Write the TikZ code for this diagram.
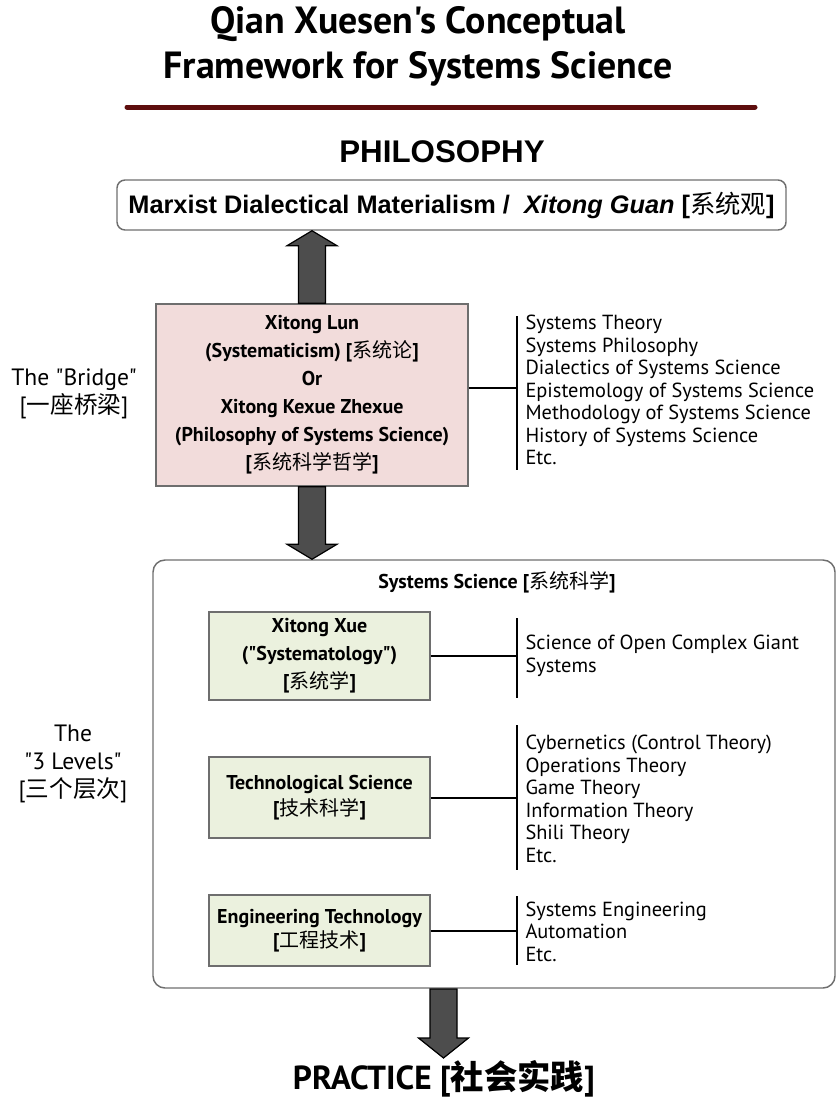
\documentclass[tikz,border=0pt]{standalone}
\usepackage{fontspec}
\setmainfont{PT Sans}[Ligatures=TeXOff]
\newfontfamily\arialfont{Liberation Sans}
\newfontfamily\cjk{Noto Sans CJK SC}
\newcommand{\zhtext}[1]{{\cjk\mdseries #1}}
\usetikzlibrary{calc}

\definecolor{titlered}{RGB}{94,14,14}
\definecolor{bridgepink}{RGB}{242,220,219}
\definecolor{levelgreen}{RGB}{235,241,222}
\definecolor{arrowgray}{RGB}{77,77,77}
\definecolor{bordergray}{RGB}{110,110,110}

\tikzset{every picture/.style={line width=0.75pt}}
\tikzset{
	titletext/.style={font=\bfseries\fontsize{28.4}{33.75}\selectfont, align=center},
	headtext/.style={font=\arialfont\bfseries\fontsize{23.5}{27}\selectfont},
	topbox/.style={draw=bordergray, rounded corners=6pt, line width=1.1pt, minimum width=501.75pt, minimum height=37.5pt, font=\arialfont\bfseries\fontsize{19}{22}\selectfont},
	bridgebox/.style={draw=bordergray, fill=bridgepink, line width=1.1pt, minimum width=234pt, minimum height=136.5pt, align=center, font=\bfseries\fontsize{15}{21}\selectfont},
	levelbox/.style={draw=bordergray, fill=levelgreen, line width=1.1pt, minimum width=165.75pt, align=center, font=\bfseries\fontsize{15}{21}\selectfont},
	outerbox/.style={draw=bordergray, rounded corners=9pt, line width=1.1pt, minimum width=511.5pt, minimum height=321pt},
	sidelabel/.style={align=center, font=\fontsize{17.7}{21}\selectfont},
	listtext/.style={anchor=west, align=left, inner sep=0pt, font=\fontsize{15.3}{16.9}\selectfont},
	joinline/.style={line width=1.5pt},
	bigarrow/.style={draw=black, fill=arrowgray, line width=0.9pt, line join=miter}}

% block arrow: from (#1) to tip (#2), head base offset #3
\newcommand{\blockarrow}[3]{%
	\draw[bigarrow] ($(#1)+(-13.5,0)$) -- ($(#2)+(-13.5,#3)$) -- ($(#2)+(-25,#3)$) -- (#2) -- ($(#2)+(25,#3)$) -- ($(#2)+(13.5,#3)$) -- ($(#1)+(13.5,0)$) -- cycle;}

\begin{document}
\begin{tikzpicture}[x=0.75pt,y=0.75pt,yscale=-1,xscale=1]
	\useasboundingbox (0,0) rectangle (836,1099);

	% Text Node
	\node[titletext] (title) at (418,46) {Qian Xuesen's Conceptual\\Framework for Systems Science};
	%Straight Lines
	\draw[titlered, line width=3.75pt, line cap=round] (127,107) -- (755,107);

	% Text Node
	\node[headtext] (philo) at (442,152) {PHILOSOPHY};
	%Rounded Rect
	\node[topbox] (top) at (451.5,205) {Marxist Dialectical Materialism / \ \textit{Xitong Guan} [\zhtext{系统观}]};

	%Shape: Rectangle
	\node[bridgebox] (bridge) at (312,395) {Xitong Lun\\(Systematicism) [\zhtext{系统论}]\\Or\\Xitong Kexue Zhexue\\(Philosophy of Systems Science)\\{[\zhtext{系统科学哲学}]}};
	% Text Node
	\node[sidelabel] (bridgelabel) at (74,394) {The "Bridge"\\{[\zhtext{一座桥梁}]}};

	% bridge list
	\coordinate (jb) at (517,388);
	\coordinate (jbtop) at (517,316);
	\coordinate (jbbot) at (517,470);
	\draw[joinline] (jbtop) -- (jbbot);
	\draw[joinline] (bridge.east |- jb) -- (jb);
	\node[listtext] (bridgelist) at (525,390) {Systems Theory\\Systems Philosophy\\Dialectics of Systems Science\\Epistemology of Systems Science\\Methodology of Systems Science\\History of Systems Science\\Etc.};

	%Rounded Rect
	\node[outerbox] (sys) at (494,774) {};
	% Text Node
	\node[font=\bfseries\fontsize{15}{18}\selectfont] (syshead) at (497,582) {Systems Science [\zhtext{系统科学}]};

	%Shape: Rectangle
	\node[levelbox, minimum height=66pt] (xue) at (319.5,656) {Xitong Xue\\("Systematology")\\{[\zhtext{系统学}]}};
	\node[levelbox, minimum height=60.75pt, font=\bfseries\fontsize{15}{20}\selectfont] (tech) at (319.5,797.5) {Technological Science\\{[\zhtext{技术科学}]}};
	\node[levelbox, minimum height=53.25pt, font=\bfseries\fontsize{15}{18}\selectfont] (eng) at (319.5,930.5) {Engineering Technology\\{[\zhtext{工程技术}]}};
	% Text Node
	\node[sidelabel] (levellabel) at (73,764) {The\\"3 Levels"\\{[\zhtext{三个层次}]}};

	% level lists
	\coordinate (j1top) at (517,618);
	\coordinate (j1bot) at (517,698);
	\draw[joinline] (j1top) -- (j1bot);
	\draw[joinline] (xue.east) -- (xue.east -| j1top);
	\node[listtext] (xuelist) at (525,656) {Science of Open Complex Giant\\Systems};

	\coordinate (j2top) at (517,725);
	\coordinate (j2bot) at (517,870);
	\draw[joinline] (j2top) -- (j2bot);
	\draw[joinline] (tech.east) -- (tech.east -| j2top);
	\node[listtext] (techlist) at (525,799) {Cybernetics (Control Theory)\\Operations Theory\\Game Theory\\Information Theory\\Shili Theory\\Etc.};

	\coordinate (j3top) at (517,896);
	\coordinate (j3bot) at (517,965);
	\draw[joinline] (j3top) -- (j3bot);
	\draw[joinline] (eng.east) -- (eng.east -| j3top);
	\node[listtext] (englist) at (525,931.5) {Systems Engineering\\Automation\\Etc.};

	% Text Node
	\node[font=\bfseries\fontsize{25}{28}\selectfont] (practice) at (444,1079) {PRACTICE [{\cjk 社会实践}]};

	% block arrows
	\coordinate (uptip) at (bridge.north |- top.south);
	\blockarrow{bridge.north}{uptip}{15}
	\coordinate (downtip) at (bridge.south |- sys.north);
	\blockarrow{bridge.south}{downtip}{-15}
	\coordinate (practop) at (443.5,989);
	\coordinate (practip) at (443.5,1058);
	\blockarrow{practop}{practip}{-20}

\end{tikzpicture}
\end{document}
